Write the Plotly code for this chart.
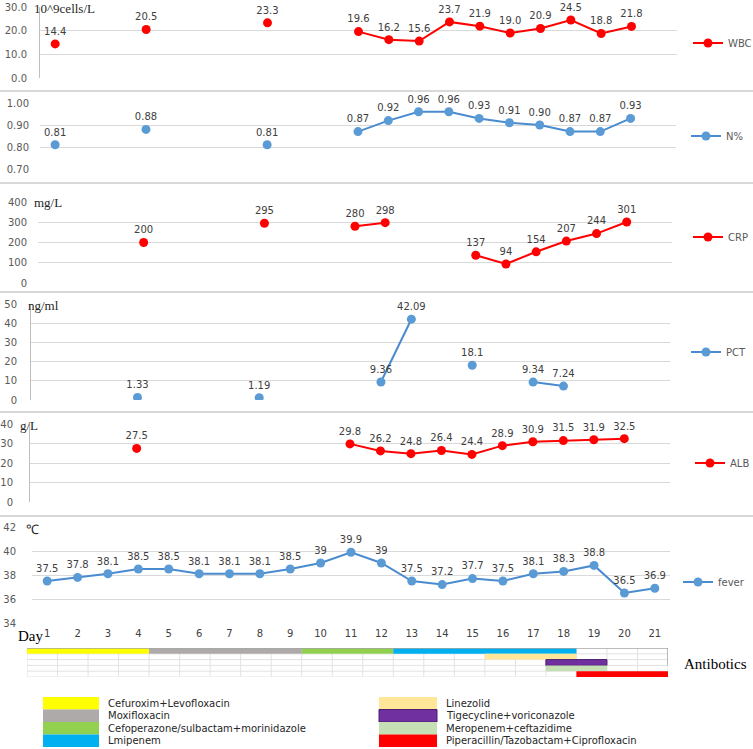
import plotly.graph_objects as go

# ---------------- data ----------------
days = list(range(1, 22))
N = None
wbc = [14.4, N, N, 20.5, N, N, N, 23.3, N, N, 19.6, 16.2, 15.6, 23.7, 21.9, 19.0, 20.9, 24.5, 18.8, 21.8, N]
neut = [0.81, N, N, 0.88, N, N, N, 0.81, N, N, 0.87, 0.92, 0.96, 0.96, 0.93, 0.91, 0.90, 0.87, 0.87, 0.93, N]
crp = [N, N, N, 200, N, N, N, 295, N, N, 280, 298, N, N, 137, 94, 154, 207, 244, 301, N]
pct = [N, N, N, 1.33, N, N, N, 1.19, N, N, N, 9.36, 42.09, N, 18.1, N, 9.34, 7.24, N, N, N]
alb = [N, N, N, 27.5, N, N, N, N, N, N, 29.8, 26.2, 24.8, 26.4, 24.4, 28.9, 30.9, 31.5, 31.9, 32.5, N]
fever = [37.5, 37.8, 38.1, 38.5, 38.5, 38.1, 38.1, 38.1, 38.5, 39, 39.9, 39, 37.5, 37.2, 37.7, 37.5, 38.1, 38.3, 38.8, 36.5, 36.9]

series_names = ["WBC", "N%", "CRP", "PCT", "ALB", "fever"]
series_values = [wbc, neut, crp, pct, alb, fever]
units = ["10^9cells/L", "", "mg/L", "ng/ml", "g/L", "\u2103"]
y_ranges = [[0, 30], [0.7, 1.0], [0, 400], [0, 50], [0, 40], [34, 42]]
y_ticks = [[0, 10, 20, 30], [0.7, 0.8, 0.9, 1.0], [0, 100, 200, 300, 400],
           [0, 10, 20, 30, 40, 50], [0, 10, 20, 30, 40], [34, 36, 38, 40, 42]]
tick_formats = [".1f", ".2f", "d", "d", "d", "d"]
label_formats = ["{:.1f}", "{:.2f}", "{:.0f}", "{:g}", "{:g}", "{:g}"]
day_labels = [str(d) for d in days]

abx_names = ["Cefuroxim+Levofloxacin", "Moxifloxacin", "Cefoperazone/sulbactam+morinidazole",
             "Lmipenem", "Linezolid", "Tigecycline+voriconazole", "Meropenem+ceftazidime",
             "Piperacillin/Tazobactam+Ciprofloxacin"]
abx_start = [1, 5, 10, 13, 16, 18, 18, 19]
abx_end = [4, 9, 12, 18, 18, 19, 19, 21]
abx_row = [1, 1, 1, 1, 2, 3, 4, 5]

# ---------------- styling / layout ----------------
W, H = 753, 749
RED = "#FF0000"
BLUE = "#5B9BD5"
BLUE_LINE = "#4A8BD0"
series_colors = [RED, BLUE, RED, BLUE, RED, BLUE]
line_colors = [RED, BLUE_LINE, RED, BLUE_LINE, RED, BLUE_LINE]
abx_colors = ["#FFFF00", "#AEAAAA", "#92D050", "#00B0F0", "#FFE699", "#7030A0", "#C5E0B4", "#FF0000"]
abx_edge = [None, None, None, None, None, "#4B1F6F", None, None]

# panel geometry in pixels: (left, right, top, bottom)
panel_px = [(40, 677, 7, 78), (40, 676, 103, 169), (38, 672, 202, 283),
            (31, 670, 304, 400), (30, 670, 424, 502), (32, 670, 527, 623)]
axis_line = [True, False, False, True, True, False]
standoff = [10, 10, 10, 11, 14, 15]
unit_pos = [(32, 8), None, (32, 202), (26, 305), (18, 425), (24, 529)]
legend_pos = [(688, 43), (686, 136), (688, 237), (686, 352), (690, 463), (678, 582)]
separators = [91, 183, 292, 412, 516]
table_px = (27, 668, 648, 677)


def fx(p):
    return p / W


def fy(p):
    return 1 - p / H


fig = go.Figure()
layout = dict(
    width=W, height=H, margin=dict(l=0, r=0, t=0, b=0, pad=0, autoexpand=False),
    paper_bgcolor="white", plot_bgcolor="white",
    showlegend=True, barmode="overlay",
    font=dict(family="DejaVu Sans", size=10, color="#595959"),
)
shapes = []
annotations = []

for i in range(6):
    k = i + 1
    xa = "x" if k == 1 else f"x{k}"
    ya = "y" if k == 1 else f"y{k}"
    leg = "legend" if k == 1 else f"legend{k}"
    L, R, T, B = panel_px[i]
    vals = series_values[i]
    labels = [label_formats[i].format(v) if v is not None else "" for v in vals]
    # main line+marker trace
    fig.add_trace(go.Scatter(
        x=days, y=vals, name=series_names[i], mode="lines+markers",
        line=dict(color=line_colors[i], width=2), marker=dict(color=series_colors[i], size=9),
        connectgaps=False, xaxis=xa, yaxis=ya, legend=leg, showlegend=True, hoverinfo="skip",
    ))
    # data labels
    fig.add_trace(go.Scatter(
        x=days, y=vals, mode="markers+text", text=labels,
        textposition="top center", textfont=dict(size=10, color="#404040"),
        marker=dict(size=9, color="rgba(0,0,0,0)"), cliponaxis=False,
        xaxis=xa, yaxis=ya, showlegend=False, hoverinfo="skip",
    ))
    xkey = "xaxis" if k == 1 else f"xaxis{k}"
    ykey = "yaxis" if k == 1 else f"yaxis{k}"
    xdict = dict(domain=[fx(L), fx(R)], range=[0.5, 21.5], anchor=ya, showgrid=False,
                 zeroline=False, showline=False, ticks="", showticklabels=False, fixedrange=True)
    if k == 6:
        xdict.update(showticklabels=True, tickvals=days, ticktext=day_labels,
                     tickfont=dict(size=10, color="#404040"), ticklabelstandoff=3)
    layout[xkey] = xdict
    layout[ykey] = dict(
        domain=[fy(B), fy(T)], range=y_ranges[i], anchor=xa, tickvals=y_ticks[i],
        tickformat=tick_formats[i], showgrid=True, gridcolor="#D9D9D9", gridwidth=1,
        zeroline=False, showline=axis_line[i], linecolor="#BFBFBF", linewidth=1,
        ticks="", tickfont=dict(size=10, color="#595959"), ticklabelstandoff=standoff[i],
        fixedrange=True,
    )
    lx, ly = legend_pos[i]
    layout[leg] = dict(
        x=fx(lx), y=fy(ly), xanchor="left", yanchor="middle",
        bgcolor="rgba(0,0,0,0)", borderwidth=0, font=dict(size=10, color="#595959"),
        itemwidth=30, tracegroupgap=0,
    )
    if unit_pos[i] is not None:
        ux, uy = unit_pos[i]
        annotations.append(dict(
            text=units[i], x=fx(ux), y=fy(uy), xref="paper", yref="paper",
            xanchor="left", yanchor="middle", showarrow=False,
            font=dict(family="Liberation Serif", size=13, color="#262626"),
        ))

# separators
for s in separators:
    shapes.append(dict(type="line", xref="paper", yref="paper", x0=0, x1=1, y0=fy(s), y1=fy(s),
                       line=dict(color="#D9D9D9", width=2)))

# "Day" label
annotations.append(dict(text="Day", x=fx(16), y=fy(636), xref="paper", yref="paper",
                        xanchor="left", yanchor="middle", showarrow=False,
                        font=dict(family="Liberation Serif", size=15, color="#000000")))
annotations.append(dict(text="Antibotics", x=fx(682), y=fy(664), xref="paper", yref="paper",
                        xanchor="left", yanchor="middle", showarrow=False,
                        font=dict(family="Liberation Serif", size=15, color="#000000")))

# antibiotics table axis
TL, TR, TT, TB = table_px
layout["xaxis7"] = dict(domain=[fx(TL), fx(TR)], range=[0.5, 21.5], anchor="y7", visible=False,
                        fixedrange=True)
layout["yaxis7"] = dict(domain=[fy(TB), fy(TT)], range=[0, 5], anchor="x7", visible=False,
                        fixedrange=True)
n_rows = 5
for j in range(len(abx_names)):
    edge = dict(width=0) if abx_edge[j] is None else dict(width=1, color=abx_edge[j])
    fig.add_trace(go.Bar(
        orientation="h", base=[abx_start[j] - 0.5], x=[abx_end[j] - abx_start[j] + 1],
        y=[n_rows - abx_row[j] + 0.5], width=1, marker=dict(color=abx_colors[j], line=edge),
        xaxis="x7", yaxis="y7", showlegend=False, hoverinfo="skip", name=abx_names[j],
    ))
for c in range(0, 22):
    shapes.append(dict(type="line", xref="x7", yref="y7", x0=c + 0.5, x1=c + 0.5, y0=0, y1=n_rows,
                       line=dict(color="#E2E2E2", width=1), layer="below"))
for r in range(0, n_rows):
    shapes.append(dict(type="line", xref="x7", yref="y7", x0=0.5, x1=21.5, y0=r, y1=r,
                       line=dict(color="#E2E2E2", width=1), layer="below"))
shapes.append(dict(type="line", xref="x7", yref="y7", x0=0.5, x1=21.5, y0=n_rows, y1=n_rows,
                   line=dict(color="#A6A6A6", width=1.5)))
shapes.append(dict(type="line", xref="x7", yref="y7", x0=21.5, x1=21.5, y0=n_rows - 3, y1=n_rows,
                   line=dict(color="#A6A6A6", width=1.5)))

# antibiotics legend (two columns of four)
leg_cols = [(43, 99, 106), (379, 437, 444)]
leg_top, leg_h = 697, 12.5
for j, name in enumerate(abx_names):
    col, row = divmod(j, 4)
    bx0, bx1, tx = leg_cols[col]
    y0 = leg_top + row * leg_h
    edge = dict(width=0) if abx_edge[j] is None else dict(width=1, color=abx_edge[j])
    shapes.append(dict(type="rect", xref="paper", yref="paper", x0=fx(bx0), x1=fx(bx1),
                       y0=fy(y0 + leg_h), y1=fy(y0), fillcolor=abx_colors[j], line=edge))
    annotations.append(dict(text=name, x=fx(tx), y=fy(y0 + leg_h / 2), xref="paper", yref="paper",
                            xanchor="left", yanchor="middle", showarrow=False,
                            font=dict(family="DejaVu Sans", size=10, color="#262626")))

layout["shapes"] = shapes
layout["annotations"] = annotations
fig.update_layout(**layout)
fig.write_html(
    "out.html",
    config={"displayModeBar": False, "staticPlot": True},
    post_script="document.body.style.margin='0';document.body.style.overflow='hidden';",
)
